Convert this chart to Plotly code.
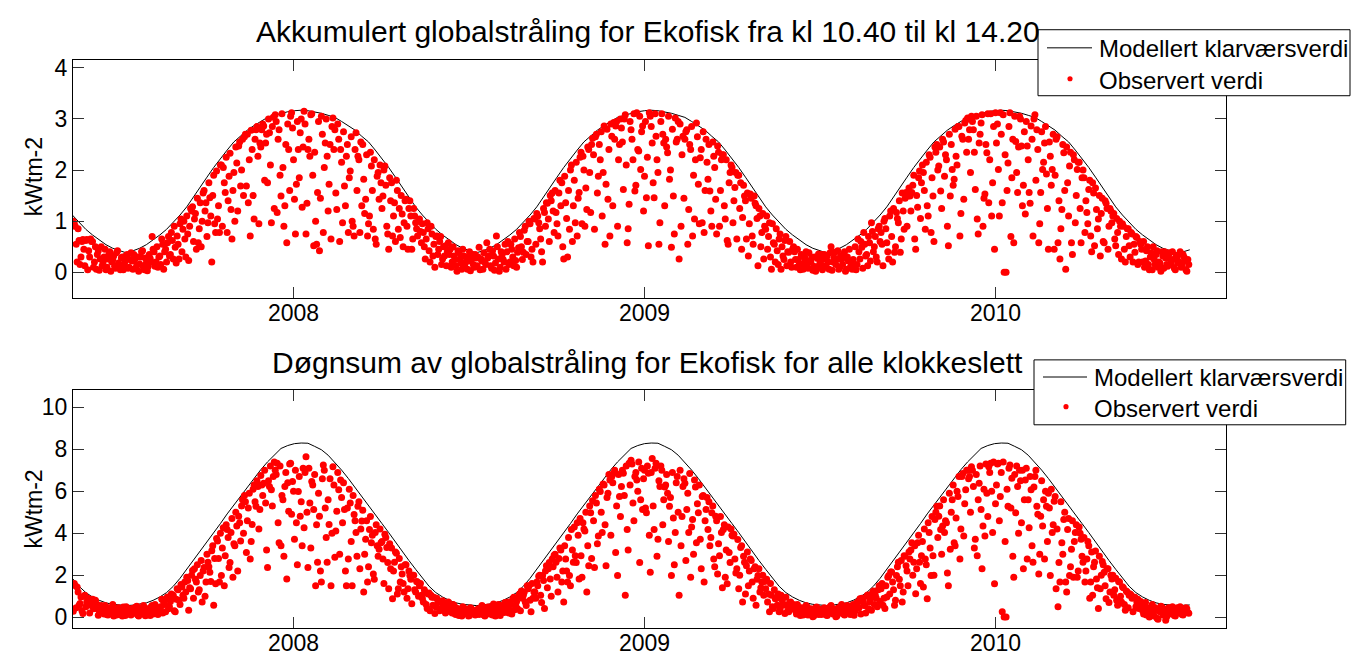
import plotly.graph_objects as go

# ---------------------------------------------------------------------------
# Data (x = day number counted from the first observation)
# ---------------------------------------------------------------------------
model_days = list(range(-1, 1162, 7))          # clear-sky model, weekly
obs_days_even = list(range(0, 1161, 2))        # observations, even day numbers
obs_days_odd = list(range(1, 1161, 2))         # observations, odd day numbers

year_tick_days = [229, 594, 959]
year_labels = ["2008", "2009", "2010"]

# Modelled clear-sky value, accumulated 10.40-14.20 (kWtm-2)
model_acc = [
    1.12, 0.97, 0.84, 0.73, 0.63, 0.54, 0.47, 0.42, 0.38,
    0.42, 0.47, 0.54, 0.63, 0.73, 0.84, 0.97, 1.12, 1.28, 1.48, 1.67, 1.86, 2.05,
    2.23, 2.39, 2.55, 2.66, 2.78, 2.87, 2.95, 3.03, 3.07, 3.11, 3.14, 3.16, 3.17,
    3.16, 3.14, 3.11, 3.07, 3.03, 2.95, 2.87, 2.78, 2.66, 2.55, 2.39, 2.23, 2.05,
    1.86, 1.67, 1.48, 1.28, 1.12, 0.97, 0.84, 0.73, 0.63, 0.54, 0.47, 0.42, 0.38,
    0.42, 0.47, 0.54, 0.63, 0.73, 0.84, 0.97, 1.12, 1.28, 1.48, 1.67, 1.86, 2.05,
    2.23, 2.39, 2.55, 2.66, 2.78, 2.87, 2.95, 3.03, 3.07, 3.11, 3.14, 3.16, 3.17,
    3.16, 3.14, 3.11, 3.07, 3.03, 2.95, 2.87, 2.78, 2.66, 2.55, 2.39, 2.23, 2.05,
    1.86, 1.67, 1.48, 1.28, 1.12, 0.97, 0.84, 0.73, 0.63, 0.54, 0.47, 0.42, 0.38,
    0.42, 0.47, 0.54, 0.63, 0.73, 0.84, 0.97, 1.12, 1.28, 1.48, 1.67, 1.86, 2.05,
    2.23, 2.39, 2.55, 2.66, 2.78, 2.87, 2.95, 3.03, 3.07, 3.11, 3.14, 3.16, 3.17,
    3.16, 3.14, 3.11, 3.07, 3.03, 2.95, 2.87, 2.78, 2.66, 2.55, 2.39, 2.23, 2.05,
    1.86, 1.67, 1.48, 1.28, 1.12, 0.97, 0.84, 0.73, 0.63, 0.54, 0.47, 0.42, 0.38,
    0.40, 0.44,
]

# Modelled clear-sky daily sum (kWtm-2)
model_sum = [
    1.85, 1.47, 1.17, 0.96, 0.80, 0.68, 0.61, 0.57, 0.55,
    0.57, 0.61, 0.68, 0.80, 0.96, 1.17, 1.47, 1.85, 2.28, 2.70, 3.13, 3.57, 4.03,
    4.46, 4.92, 5.35, 5.77, 6.20, 6.62, 7.03, 7.40, 7.74, 8.04, 8.18, 8.27, 8.30,
    8.29, 8.14, 7.98, 7.72, 7.38, 7.01, 6.61, 6.19, 5.76, 5.34, 4.91, 4.46, 4.03,
    3.57, 3.13, 2.70, 2.28, 1.85, 1.47, 1.17, 0.96, 0.80, 0.68, 0.61, 0.57, 0.55,
    0.57, 0.61, 0.68, 0.80, 0.96, 1.17, 1.47, 1.85, 2.28, 2.70, 3.13, 3.57, 4.03,
    4.46, 4.92, 5.35, 5.77, 6.20, 6.62, 7.03, 7.40, 7.74, 8.04, 8.18, 8.27, 8.30,
    8.29, 8.14, 7.98, 7.72, 7.38, 7.01, 6.61, 6.19, 5.76, 5.34, 4.91, 4.46, 4.03,
    3.57, 3.13, 2.70, 2.28, 1.85, 1.47, 1.17, 0.96, 0.80, 0.68, 0.61, 0.57, 0.55,
    0.57, 0.61, 0.68, 0.80, 0.96, 1.17, 1.47, 1.85, 2.28, 2.70, 3.13, 3.57, 4.03,
    4.46, 4.92, 5.35, 5.77, 6.20, 6.62, 7.03, 7.40, 7.74, 8.04, 8.18, 8.27, 8.30,
    8.29, 8.14, 7.98, 7.72, 7.38, 7.01, 6.61, 6.19, 5.76, 5.34, 4.91, 4.46, 4.03,
    3.57, 3.13, 2.70, 2.28, 1.85, 1.47, 1.17, 0.96, 0.80, 0.68, 0.61, 0.57, 0.55,
    0.56, 0.58,
]

# Observed value, accumulated 10.40-14.20 (kWtm-2) - even day numbers, 30 days per row
obs_acc_even = [
    1.0, 0.9, 0.2, 0.62, 0.3, 0.64, 0.13, 0.64, 0.42, 0.65, 0.6, 0.2, 0.06, 0.42, 0.26,
    0.13, 0.3, 0.05, 0.26, 0.4, 0.2, 0.32, 0.08, 0.42, 0.15, 0.28, 0.05, 0.22, 0.35, 0.1,
    0.38, 0.06, 0.26, 0.14, 0.02, 0.3, 0.42, 0.05, 0.18, 0.12, 0.27, 0.7, 0.4, 0.2, 0.1,
    0.32, 0.65, 0.06, 0.45, 0.58, 0.32, 0.78, 0.26, 0.49, 0.71, 0.26, 1.04, 0.84, 0.65, 1.1,
    0.23, 1.25, 1.28, 1.04, 0.45, 0.58, 1.36, 1.0, 1.6, 1.36, 0.97, 1.46, 0.2, 1.9, 0.78,
    1.04, 0.78, 2.1, 2.05, 1.56, 0.78, 1.88, 1.23, 1.6, 1.0, 2.14, 2.47, 1.69, 2.6, 2.65,
    1.69, 1.36, 0.71, 2.4, 1.04, 2.79, 2.27, 2.53, 2.79, 2.86, 2.53, 1.75, 2.73, 0.97, 3.03,
    3.08, 1.17, 2.79, 1.49, 2.05, 1.3, 0.58, 2.4, 3.05, 2.82, 1.43, 1.72, 2.4, 2.73, 1.27,
    3.15, 0.75, 2.4, 2.27, 3.1, 0.52, 1.0, 1.56, 0.42, 3.05, 0.78, 2.53, 2.27, 1.72, 0.65,
    3.02, 2.79, 1.23, 2.6, 2.4, 0.97, 1.69, 2.27, 0.78, 1.98, 1.0, 0.71, 2.73, 2.27, 0.78,
    1.3, 1.82, 1.43, 0.71, 1.1, 2.08, 0.84, 0.65, 1.88, 1.43, 1.75, 1.49, 2.08, 0.9, 0.45,
    1.4, 0.71, 1.36, 1.8, 0.84, 0.68, 1.14, 0.97, 1.43, 0.45, 1.4, 0.45, 1.25, 0.97, 0.71,
    1.04, 0.58, 0.78, 0.26, 0.97, 0.42, 0.9, 0.32, 0.1, 0.71, 0.45, 0.7, 0.26, 0.32, 0.13,
    0.58, 0.45, 0.2, 0.32, 0.13, 0.42, 0.26, 0.06, 0.32, 0.2, 0.06, 0.4, 0.26, 0.15, 0.35,
    0.13, 0.49, 0.26, 0.06, 0.2, 0.58, 0.32, 0.13, 0.42, 0.04, 0.71, 0.26, 0.1, 0.35, 0.2,
    0.06, 0.6, 0.2, 0.45, 0.13, 0.23, 0.39, 0.78, 0.5, 0.39, 0.9, 0.6, 1.0, 0.3, 0.2,
    1.04, 1.15, 0.97, 0.65, 0.2, 1.17, 1.36, 1.04, 1.5, 1.55, 0.78, 1.17, 0.71, 1.8, 1.75,
    0.26, 1.36, 0.3, 0.84, 2.1, 1.3, 0.97, 0.71, 1.56, 2.35, 2.27, 0.9, 1.23, 2.4, 1.17,
    2.62, 0.84, 2.7, 1.88, 2.2, 1.1, 2.86, 1.72, 1.43, 0.71, 2.66, 2.93, 2.86, 0.9, 2.5,
    2.82, 1.62, 3.08, 0.58, 1.33, 2.79, 2.2, 1.59, 3.12, 2.37, 2.01, 2.86, 1.88, 1.46, 0.52,
    3.05, 2.53, 1.46, 2.66, 1.95, 0.97, 3.1, 2.53, 2.6, 2.34, 1.82, 0.49, 1.49, 3.02, 2.6,
    0.26, 0.9, 2.66, 2.6, 2.79, 1.23, 2.4, 0.71, 1.04, 2.92, 1.72, 2.24, 0.97, 0.78, 2.6,
    1.82, 1.59, 0.9, 2.27, 1.43, 2.47, 0.9, 2.2, 2.3, 1.04, 0.62, 1.75, 2.1, 0.97, 1.66,
    0.65, 1.9, 1.75, 1.07, 1.49, 0.65, 0.32, 1.53, 0.71, 1.49, 1.3, 0.13, 1.1, 0.78, 0.26,
    0.84, 0.45, 0.97, 0.06, 0.58, 0.2, 0.42, 0.65, 0.06, 0.32, 0.62, 0.13, 0.39, 0.2, 0.45,
    0.4, 0.1, 0.25, 0.05, 0.32, 0.18, 0.4, 0.08, 0.22, 0.3, 0.12, 0.02, 0.27, 0.15, 0.35,
    0.26, 0.13, 0.32, 0.06, 0.5, 0.2, 0.39, 0.26, 0.06, 0.32, 0.15, 0.4, 0.06, 0.22, 0.1,
    0.06, 0.1, 0.05, 0.65, 0.26, 0.49, 0.78, 0.32, 0.13, 0.58, 0.97, 0.4, 0.7, 0.2, 0.9,
    0.78, 0.13, 1.05, 0.58, 0.26, 1.2, 0.2, 0.39, 1.17, 0.97, 0.39, 1.55, 0.84, 1.56, 1.49,
    1.49, 1.56, 1.9, 0.45, 1.27, 1.98, 1.75, 1.95, 0.84, 1.3, 2.3, 0.78, 1.49, 2.45, 2.5,
    2.08, 1.59, 2.6, 1.88, 2.2, 0.52, 1.49, 2.01, 1.82, 2.27, 2.85, 0.71, 2.66, 1.43, 2.97,
    3.02, 2.79, 3.05, 2.79, 1.62, 1.04, 2.53, 2.92, 0.9, 1.53, 2.34, 1.36, 3.1, 1.75, 0.45,
    2.53, 2.01, 3.12, 1.36, 0.0, 0.0, 2.14, 3.12, 1.85, 0.58, 2.56, 1.56, 3.05, 2.47, 1.7,
    1.14, 2.47, 1.56, 2.86, 0.71, 3.08, 2.79, 0.58, 1.56, 2.01, 2.53, 1.92, 0.45, 2.27, 2.01,
    0.45, 2.6, 0.58, 0.26, 1.23, 2.34, 0.06, 1.75, 2.08, 0.58, 2.3, 0.97, 2.01, 2.15, 0.58,
    2.0, 0.78, 1.17, 1.62, 0.71, 1.75, 0.52, 1.23, 1.04, 0.32, 1.45, 0.58, 1.35, 0.45, 1.25,
    0.97, 1.15, 0.52, 0.78, 1.0, 0.26, 0.9, 0.2, 0.85, 0.52, 0.78, 0.2, 0.39, 0.68, 0.2,
    0.55, 0.2, 0.1, 0.42, 0.15, 0.3, 0.05, 0.25, 0.35, 0.1, 0.18, 0.4, 0.08, 0.28, 0.12,
    0.38, 0.15, 0.25, 0.05, 0.3, 0.2, 0.1, 0.35, 0.22, 0.02, 0.15,
]

# Observed value, accumulated 10.40-14.20 (kWtm-2) - odd day numbers
obs_acc_odd = [
    0.95, 0.55, 0.85, 0.15, 0.6, 0.45, 0.62, 0.05, 0.3, 0.6, 0.1, 0.5, 0.35, 0.04, 0.5,
    0.2, 0.45, 0.1, 0.35, 0.02, 0.25, 0.12, 0.38, 0.18, 0.05, 0.3, 0.15, 0.33, 0.08, 0.25,
    0.22, 0.35, 0.08, 0.3, 0.16, 0.4, 0.1, 0.28, 0.03, 0.35, 0.2, 0.45, 0.12, 0.5, 0.3,
    0.15, 0.55, 0.4, 0.2, 0.7, 0.35, 0.62, 0.9, 0.18, 0.55, 0.95, 0.4, 1.0, 0.3, 0.75,
    0.9, 1.2, 0.6, 1.15, 1.45, 0.85, 0.5, 1.55, 1.2, 0.7, 1.75, 1.1, 1.5, 0.95, 1.98,
    1.3, 2.1, 0.9, 1.75, 2.25, 1.4, 2.33, 0.65, 1.95, 2.45, 1.2, 2.55, 2.0, 1.5, 2.7,
    2.7, 2.2, 2.78, 1.5, 2.6, 2.85, 0.95, 2.45, 2.9, 1.8, 2.7, 3.0, 2.1, 2.85, 1.25,
    2.95, 2.6, 1.9, 3.1, 0.9, 2.5, 2.9, 1.6, 3.12, 2.2, 0.75, 2.95, 1.85, 3.0, 2.45,
    2.9, 1.35, 2.6, 3.08, 1.9, 2.35, 0.55, 2.95, 1.45, 2.7, 2.05, 3.0, 1.2, 2.5, 2.85,
    2.4, 1.55, 2.9, 0.6, 2.15, 2.75, 1.3, 2.5, 1.85, 2.65, 0.9, 2.4, 1.6, 2.2, 2.55,
    2.5, 1.15, 2.3, 0.95, 2.35, 1.6, 2.2, 0.55, 1.95, 2.1, 1.25, 2.0, 1.7, 0.75, 1.85,
    1.75, 1.1, 0.6, 1.6, 1.25, 1.5, 0.5, 1.4, 0.9, 1.25, 1.1, 0.65, 1.1, 0.85, 1.0,
    0.8, 0.95, 0.5, 0.65, 0.85, 0.2, 0.75, 0.55, 0.7, 0.35, 0.6, 0.15, 0.5, 0.52, 0.4,
    0.35, 0.1, 0.5, 0.25, 0.02, 0.38, 0.18, 0.45, 0.12, 0.3, 0.22, 0.03, 0.35, 0.1, 0.28,
    0.3, 0.05, 0.22, 0.38, 0.15, 0.28, 0.45, 0.08, 0.32, 0.18, 0.5, 0.02, 0.4, 0.25, 0.55,
    0.4, 0.15, 0.55, 0.3, 0.65, 0.1, 0.48, 0.7, 0.25, 0.82, 0.35, 0.6, 0.95, 0.45, 1.05,
    0.55, 1.1, 0.85, 0.4, 1.25, 0.9, 1.35, 0.6, 1.4, 1.2, 1.6, 0.95, 1.55, 1.3, 0.5,
    1.88, 1.05, 1.6, 2.0, 0.6, 1.8, 2.15, 1.45, 2.25, 0.95, 2.0, 1.65, 2.45, 1.95, 2.5,
    2.3, 2.65, 1.55, 2.5, 2.75, 1.95, 0.55, 2.8, 2.4, 2.9, 1.3, 2.6, 2.95, 2.2, 3.0,
    2.55, 3.0, 2.1, 0.85, 2.95, 2.6, 3.1, 1.7, 2.4, 3.05, 2.75, 1.2, 2.95, 2.25, 3.12,
    2.85, 1.75, 3.1, 2.2, 0.55, 2.95, 2.7, 1.3, 2.45, 3.05, 2.0, 2.8, 0.75, 2.55, 2.95,
    2.9, 2.3, 1.45, 2.75, 0.55, 2.5, 2.85, 1.9, 2.2, 2.65, 0.95, 2.4, 2.75, 1.6, 2.15,
    2.5, 1.2, 2.55, 2.05, 0.75, 2.35, 1.6, 2.3, 1.3, 2.2, 0.55, 1.95, 2.05, 1.4, 1.95,
    1.9, 1.25, 0.45, 1.7, 1.4, 1.55, 0.95, 1.45, 0.55, 1.35, 1.05, 1.25, 0.5, 1.15, 0.9,
    1.1, 0.7, 0.3, 0.95, 0.55, 0.85, 0.15, 0.75, 0.5, 0.25, 0.7, 0.4, 0.6, 0.1, 0.5,
    0.25, 0.45, 0.15, 0.35, 0.06, 0.28, 0.12, 0.38, 0.2, 0.04, 0.3, 0.1, 0.36, 0.2, 0.05,
    0.35, 0.1, 0.2, 0.38, 0.04, 0.28, 0.15, 0.42, 0.1, 0.25, 0.35, 0.02, 0.3, 0.45, 0.18,
    0.25, 0.5, 0.15, 0.4, 0.6, 0.08, 0.55, 0.35, 0.7, 0.22, 0.8, 0.5, 0.3, 0.85, 0.6,
    0.55, 1.0, 0.85, 0.4, 1.1, 0.7, 1.25, 0.5, 1.05, 1.4, 0.65, 1.2, 1.45, 0.9, 1.65,
    1.2, 1.7, 0.65, 1.5, 1.85, 1.05, 2.1, 1.6, 2.15, 1.1, 2.25, 1.85, 0.6, 2.35, 2.0,
    2.45, 1.25, 2.55, 2.3, 0.9, 2.7, 2.5, 1.7, 2.8, 2.1, 2.85, 1.15, 2.6, 2.92, 2.35,
    2.6, 1.95, 2.95, 2.35, 3.05, 0.75, 2.7, 3.08, 1.45, 2.5, 3.1, 2.2, 1.1, 2.85, 3.12,
    2.9, 1.1, 2.7, 3.08, 2.3, 1.6, 2.85, 0.7, 2.6, 3.05, 1.95, 2.45, 3.0, 1.3, 2.75,
    2.95, 2.2, 1.35, 2.6, 3.0, 1.8, 2.4, 0.95, 2.75, 2.15, 2.85, 1.25, 2.55, 1.7, 2.7,
    1.9, 2.65, 1.4, 0.85, 2.5, 1.6, 2.45, 1.1, 2.35, 0.35, 2.2, 1.5, 2.15, 1.25, 1.85,
    1.85, 1.4, 0.95, 1.8, 0.4, 1.55, 1.65, 0.85, 1.5, 1.15, 0.6, 1.4, 1.25, 0.9, 1.2,
    1.1, 0.65, 1.05, 0.35, 0.9, 0.95, 0.45, 0.7, 0.85, 0.3, 0.75, 0.55, 0.7, 0.15, 0.6,
    0.45, 0.6, 0.22, 0.5, 0.05, 0.38, 0.5, 0.15, 0.42, 0.2, 0.02, 0.32, 0.4, 0.15, 0.35,
    0.25, 0.4, 0.08, 0.33, 0.18, 0.4, 0.12, 0.3, 0.05, 0.25,
]

# Observed daily sum (kWtm-2) - even day numbers
obs_sum_even = [
    0.28, 1.5, 1.43, 0.57, 0.96, 0.17, 1.04, 0.72, 0.88, 0.57, 0.85, 0.8, 0.41, 0.09, 0.25,
    0.35, 0.15, 0.5, 0.1, 0.3, 0.45, 0.05, 0.2, 0.38, 0.12, 0.28, 0.48, 0.08, 0.22, 0.4,
    0.1, 0.42, 0.25, 0.52, 0.05, 0.3, 0.15, 0.45, 0.2, 0.35, 0.08, 0.55, 0.28, 0.4, 0.12,
    0.35, 0.85, 0.72, 0.25, 0.96, 0.49, 1.1, 1.04, 0.25, 1.35, 0.8, 1.55, 1.04, 1.67, 1.9,
    0.33, 1.35, 2.22, 2.3, 1.67, 1.2, 1.98, 0.72, 2.37, 1.67, 2.61, 2.14, 3.16, 0.57, 1.59,
    3.63, 1.67, 1.98, 4.26, 2.92, 4.18, 2.37, 4.03, 1.9, 3.4, 4.34, 4.81, 3.63, 5.6, 5.8,
    3.08, 5.2, 2.77, 4.42, 6.3, 5.28, 6.23, 5.13, 6.3, 6.38, 5.44, 2.37, 6.23, 6.07, 6.7,
    7.0, 7.33, 3.55, 3.4, 5.6, 6.23, 1.82, 5.05, 7.33, 6.46, 3.71, 4.5, 5.99, 4.81, 3.4,
    4.26, 7.64, 2.37, 5.44, 6.46, 5.13, 1.5, 2.61, 4.81, 1.67, 7.25, 5.2, 2.61, 4.42, 1.5,
    7.17, 2.85, 5.05, 6.07, 6.54, 4.5, 5.13, 1.5, 2.77, 5.44, 1.5, 4.89, 4.03, 5.28, 2.3,
    4.58, 1.2, 3.71, 1.67, 4.18, 3.55, 2.06, 4.03, 3.4, 3.24, 3.55, 2.77, 3.95, 3.32, 1.35,
    2.3, 0.88, 2.61, 3.05, 1.35, 1.67, 2.06, 1.2, 2.5, 1.35, 1.98, 0.64, 2.0, 1.2, 1.67,
    1.5, 1.04, 0.72, 1.2, 0.41, 1.15, 1.04, 0.57, 0.17, 0.9, 0.72, 0.41, 0.78, 0.49, 0.25,
    0.72, 0.41, 0.2, 0.55, 0.12, 0.35, 0.25, 0.05, 0.45, 0.18, 0.3, 0.08, 0.4, 0.22, 0.1,
    0.3, 0.12, 0.45, 0.2, 0.05, 0.38, 0.25, 0.5, 0.1, 0.32, 0.18, 0.6, 0.08, 0.42, 0.22,
    0.25, 0.72, 0.33, 0.15, 0.95, 0.57, 0.4, 1.1, 1.25, 1.04, 0.72, 1.5, 1.5, 0.25, 0.9,
    1.2, 1.67, 1.95, 1.04, 1.98, 0.41, 2.45, 2.3, 1.82, 2.77, 2.95, 2.61, 1.2, 3.3, 1.67,
    0.72, 2.77, 1.67, 1.98, 4.18, 2.61, 2.92, 4.5, 1.82, 2.92, 4.5, 4.1, 1.2, 2.45, 4.97,
    5.55, 2.37, 5.44, 3.87, 5.99, 4.03, 6.3, 2.45, 5.91, 6.54, 6.7, 6.86, 3.08, 1.98, 5.75,
    6.23, 6.86, 1.04, 4.18, 7.33, 7.48, 5.44, 6.7, 6.54, 7.4, 5.6, 5.13, 7.0, 4.97, 6.86,
    2.14, 7.56, 4.18, 7.33, 3.71, 6.23, 7.0, 5.6, 6.3, 5.91, 5.28, 1.98, 4.73, 4.03, 6.7,
    1.04, 3.4, 6.23, 6.38, 5.13, 4.03, 1.9, 4.65, 6.54, 3.55, 4.97, 3.71, 5.75, 1.67, 5.13,
    4.18, 3.4, 4.97, 2.77, 4.81, 2.06, 2.92, 4.03, 4.18, 1.9, 1.59, 3.08, 4.2, 3.87, 2.77,
    2.3, 1.35, 3.32, 0.72, 2.61, 2.45, 1.5, 2.77, 1.67, 2.3, 0.57, 1.98, 1.2, 1.67, 1.04,
    1.35, 0.72, 0.25, 1.04, 0.41, 0.88, 0.57, 0.25, 1.04, 0.57, 0.17, 0.57, 0.25, 0.72, 0.41,
    0.5, 0.15, 0.3, 0.08, 0.42, 0.2, 0.55, 0.1, 0.35, 0.25, 0.05, 0.45, 0.18, 0.3, 0.12,
    0.22, 0.4, 0.08, 0.32, 0.55, 0.15, 0.28, 0.05, 0.45, 0.2, 0.35, 0.1, 0.5, 0.25, 0.12,
    0.25, 0.09, 0.4, 0.72, 0.88, 0.9, 0.57, 0.2, 1.05, 0.72, 0.33, 1.25, 1.04, 0.5, 1.5,
    1.35, 0.57, 0.41, 0.96, 1.98, 2.15, 1.67, 0.57, 1.98, 2.61, 1.5, 0.72, 2.92, 2.45, 1.5,
    2.77, 3.55, 2.61, 1.12, 3.55, 2.61, 2.92, 1.43, 2.77, 0.88, 4.03, 1.98, 2.92, 4.65, 5.28,
    4.81, 4.18, 4.34, 4.03, 4.5, 1.5, 3.24, 5.6, 3.55, 4.73, 5.75, 2.77, 6.7, 3.87, 6.07,
    7.0, 6.7, 7.17, 6.23, 3.71, 2.92, 6.38, 5.13, 4.34, 3.87, 5.91, 7.17, 7.33, 4.03, 1.59,
    6.3, 7.33, 5.75, 0.25, 0.0, 0.0, 5.28, 7.25, 6.62, 1.9, 4.97, 6.23, 7.0, 4.5, 2.3,
    6.54, 2.77, 4.26, 6.07, 2.61, 6.7, 5.28, 2.06, 4.81, 4.34, 2.77, 5.28, 5.91, 1.98, 4.03,
    5.52, 1.35, 0.49, 1.67, 3.55, 4.65, 1.67, 4.18, 1.98, 3.24, 1.9, 4.03, 1.9, 4.3, 3.71,
    2.61, 1.67, 2.77, 3.4, 1.67, 1.04, 2.61, 1.82, 0.41, 1.35, 2.65, 2.14, 0.88, 2.3, 1.2,
    1.82, 1.04, 1.85, 0.57, 1.67, 0.72, 1.4, 0.33, 1.2, 1.04, 1.05, 0.25, 0.95, 0.72, 0.41,
    0.75, 0.3, 0.55, 0.1, 0.42, 0.2, 0.6, 0.05, 0.35, -0.1, 0.25, 0.48, 0.12, -0.15, 0.3,
    0.4, 0.15, 0.3, 0.05, 0.45, 0.2, 0.35, 0.1, 0.28, 0.4, 0.18,
]

# Observed daily sum (kWtm-2) - odd day numbers
obs_sum_odd = [
    1.6, 0.45, 1.2, 0.65, 0.3, 1.0, 0.5, 0.9, 0.2, 0.7, 0.4, 0.8, 0.6, 0.3, 0.55,
    0.25, 0.55, 0.12, 0.4, 0.2, 0.6, 0.3, 0.1, 0.45, 0.25, 0.05, 0.35, 0.5, 0.15, 0.3,
    0.3, 0.18, 0.48, 0.1, 0.38, 0.22, 0.55, 0.06, 0.4, 0.25, 0.5, 0.15, 0.6, 0.32, 0.45,
    0.5, 0.2, 0.6, 0.9, 0.4, 0.75, 1.0, 0.3, 0.85, 1.3, 0.6, 1.45, 0.9, 1.2, 1.75,
    1.4, 2.0, 0.9, 1.8, 2.5, 1.3, 2.7, 2.2, 1.0, 3.0, 2.4, 1.7, 3.4, 2.8, 3.75,
    2.8, 4.0, 3.3, 1.5, 4.4, 3.8, 2.6, 4.7, 3.5, 5.0, 2.2, 4.5, 5.3, 4.0, 5.5,
    4.6, 5.9, 3.6, 6.1, 5.5, 6.5, 4.2, 6.75, 5.8, 7.0, 3.2, 6.5, 7.2, 5.3, 7.4,
    6.8, 4.5, 7.2, 5.8, 2.9, 6.9, 6.4, 7.3, 4.9, 6.0, 7.0, 2.5, 6.7, 5.5, 7.1,
    6.9, 5.0, 7.1, 3.3, 6.3, 6.8, 4.4, 5.9, 2.2, 6.6, 7.0, 3.8, 5.6, 6.6, 4.0,
    6.3, 4.1, 6.9, 3.0, 5.7, 6.4, 2.2, 5.2, 6.1, 3.6, 5.8, 4.6, 2.9, 5.5, 4.2,
    5.1, 3.0, 4.6, 2.4, 4.8, 3.9, 1.8, 4.4, 2.9, 4.2, 3.6, 1.6, 3.8, 2.6, 3.5,
    3.3, 2.2, 3.1, 1.1, 2.8, 2.4, 1.6, 2.5, 0.9, 2.2, 1.8, 2.0, 1.3, 1.7, 1.0,
    1.6, 0.9, 1.3, 0.6, 1.1, 0.3, 0.95, 0.95, 0.5, 0.8, 0.3, 0.7, 0.55, 0.2, 0.65,
    0.5, 0.3, 0.6, 0.15, 0.42, 0.08, 0.28, 0.5, 0.2, 0.38, 0.05, 0.45, 0.25, 0.32, 0.15,
    0.4, 0.2, 0.55, 0.1, 0.35, 0.48, 0.15, 0.3, 0.62, 0.05, 0.4, 0.25, 0.55, 0.35, 0.7,
    0.5, 0.2, 0.6, 0.85, 0.35, 0.75, 1.0, 0.3, 0.9, 1.2, 0.55, 1.35, 0.8, 1.6, 1.2,
    0.9, 1.5, 2.0, 0.7, 1.75, 2.2, 1.4, 2.6, 1.0, 2.4, 3.0, 1.9, 2.8, 3.2, 2.2,
    3.4, 2.2, 3.8, 1.5, 3.2, 4.3, 2.6, 3.9, 4.7, 1.9, 4.2, 5.0, 3.4, 5.3, 2.8,
    4.6, 5.8, 3.5, 6.1, 5.0, 6.35, 4.4, 5.7, 6.8, 3.9, 6.4, 7.0, 5.3, 6.8, 4.8,
    7.0, 5.8, 7.2, 3.2, 6.3, 7.3, 4.6, 6.9, 6.0, 2.6, 7.1, 6.6, 5.2, 7.2, 3.9,
    6.9, 5.3, 7.1, 2.9, 6.5, 7.2, 4.4, 6.2, 6.8, 3.6, 5.7, 6.9, 2.5, 6.4, 5.0,
    7.0, 4.8, 6.6, 2.7, 5.9, 6.85, 4.3, 3.0, 6.2, 5.4, 6.3, 2.3, 5.8, 4.6, 5.7,
    5.5, 3.8, 5.3, 2.4, 4.6, 3.5, 4.8, 1.4, 4.4, 3.2, 4.3, 2.6, 3.9, 3.95, 2.1,
    3.7, 2.0, 3.4, 2.9, 1.1, 3.1, 2.2, 2.7, 0.9, 2.4, 1.8, 2.3, 1.4, 2.0, 1.7,
    1.8, 1.1, 1.6, 0.5, 1.3, 0.9, 1.1, 0.35, 0.8, 0.6, 0.95, 0.3, 0.7, 0.45, 0.6,
    0.3, 0.6, 0.22, 0.45, 0.1, 0.35, 0.5, 0.18, 0.4, 0.02, 0.28, 0.48, 0.12, 0.38, 0.2,
    0.45, 0.1, 0.3, 0.5, 0.2, 0.38, 0.02, 0.42, 0.25, 0.6, 0.15, 0.35, 0.55, 0.2, 0.4,
    0.6, 0.3, 0.7, 0.45, 0.15, 0.8, 0.55, 1.0, 0.4, 0.85, 1.15, 0.6, 0.9, 1.3, 0.75,
    1.6, 0.9, 1.5, 1.9, 1.1, 2.15, 1.3, 0.8, 2.4, 1.8, 2.7, 1.2, 2.9, 2.2, 3.1,
    3.2, 2.0, 3.4, 2.3, 3.9, 1.6, 3.6, 4.2, 2.5, 4.5, 3.3, 4.8, 2.0, 5.0, 3.8,
    5.3, 3.0, 5.6, 4.6, 2.1, 5.9, 5.0, 6.3, 3.4, 6.0, 6.7, 4.2, 6.85, 5.4, 7.0,
    6.6, 5.0, 7.0, 3.3, 6.8, 5.6, 7.2, 2.3, 6.1, 7.3, 4.8, 6.9, 6.0, 7.4, 5.4,
    7.3, 4.6, 6.9, 7.4, 3.6, 6.1, 7.1, 5.2, 2.9, 6.8, 7.2, 4.0, 6.5, 7.0, 5.6,
    7.1, 5.6, 6.7, 3.4, 6.2, 7.0, 4.9, 3.0, 6.5, 5.6, 6.0, 3.6, 5.2, 6.1, 4.4,
    5.75, 4.2, 2.6, 5.5, 3.0, 5.0, 1.2, 4.7, 2.4, 4.6, 3.6, 4.4, 2.2, 4.0, 2.9,
    3.8, 2.2, 3.6, 0.9, 3.1, 2.4, 3.15, 1.4, 2.9, 2.0, 2.5, 1.5, 2.3, 0.7, 2.0,
    2.0, 1.3, 0.8, 1.7, 1.0, 1.45, 0.6, 1.25, 0.45, 1.1, 0.9, 0.95, 0.5, 0.85, 0.6,
    0.55, 0.15, 0.7, 0.35, 0.0, 0.5, 0.22, 0.45, -0.05, 0.3, 0.52, 0.1, 0.38, 0.02, 0.45,
    0.2, 0.5, 0.08, 0.38, 0.25, 0.5, 0.12, 0.3, 0.45, 0.22,
]

assert len(model_acc) == len(model_days) == len(model_sum)
assert len(obs_acc_even) == len(obs_sum_even) == len(obs_days_even)
assert len(obs_acc_odd) == len(obs_sum_odd) == len(obs_days_odd)

obs_days = obs_days_even + obs_days_odd
obs_acc = obs_acc_even + obs_acc_odd
obs_sum = obs_sum_even + obs_sum_odd

# ---------------------------------------------------------------------------
# Figure
# ---------------------------------------------------------------------------
W, H = 1357, 658
FONT = "Liberation Sans, Arial, Helvetica, sans-serif"
X0, X1 = 73, 1226                      # plot area, left/right (px)
RED = "#ff0000"


def px_x(p):
    return p / W


def px_y(p):
    return 1 - p / H


fig = go.Figure()

panels = [
    dict(model=model_acc, obs=obs_acc, xa="x", ya="y"),
    dict(model=model_sum, obs=obs_sum, xa="x2", ya="y2"),
]
for p in panels:
    fig.add_trace(go.Scatter(
        x=model_days, y=p["model"], mode="lines",
        line=dict(color="black", width=1),
        name="Modellert klarværsverdi",
        xaxis=p["xa"], yaxis=p["ya"],
    ))
    fig.add_trace(go.Scatter(
        x=obs_days, y=p["obs"], mode="markers",
        marker=dict(color=RED, size=7, line=dict(width=0)),
        name="Observert verdi",
        xaxis=p["xa"], yaxis=p["ya"],
    ))

axis_common = dict(
    showline=True, linecolor="black", linewidth=1, mirror="ticks",
    ticks="inside", ticklen=11, tickcolor="#333333", tickwidth=1,
    showgrid=False, zeroline=False,
    tickfont=dict(family=FONT, size=23, color="black"),
)

xaxis_common = dict(axis_common, range=[-0.3, 1198.7],
                    tickvals=year_tick_days, ticktext=year_labels,
                    ticklabelstandoff=-5)

fig.update_layout(
    width=W, height=H,
    margin=dict(l=0, r=0, t=0, b=0),
    paper_bgcolor="white", plot_bgcolor="white",
    font=dict(family=FONT, color="black"),
    showlegend=False,
    xaxis=dict(xaxis_common, domain=[px_x(X0), px_x(X1)], anchor="y"),
    yaxis=dict(axis_common, domain=[px_y(296), px_y(55.7)], anchor="x",
               range=[-0.5, 4.15], tickvals=[0, 1, 2, 3, 4]),
    xaxis2=dict(xaxis_common, domain=[px_x(X0), px_x(X1)], anchor="y2"),
    yaxis2=dict(axis_common, domain=[px_y(629.3), px_y(389.3)], anchor="x2",
                range=[-0.5, 10.82], tickvals=[0, 2, 4, 6, 8, 10]),
)

title_font = dict(family=FONT, size=30, color="black")
label_font = dict(family=FONT, size=23, color="black")
legend_font = dict(family=FONT, size=24, color="black")

fig.add_annotation(text="Akkumulert globalstråling for Ekofisk fra kl 10.40 til kl 14.20",
                   xref="paper", yref="paper", x=px_x(648), y=px_y(26.7),
                   xanchor="center", yanchor="middle", showarrow=False, font=title_font)
fig.add_annotation(text="Døgnsum av globalstråling for Ekofisk for alle klokkeslett",
                   xref="paper", yref="paper", x=px_x(647), y=px_y(361),
                   xanchor="center", yanchor="middle", showarrow=False, font=title_font)
for yc in (174, 510):
    fig.add_annotation(text="kWtm-2", textangle=-90,
                       xref="paper", yref="paper", x=px_x(34), y=px_y(yc),
                       xanchor="center", yanchor="middle", showarrow=False, font=label_font)

# Legend boxes (one per panel), drawn over the plot area
legend_boxes = [
    dict(box=(1038, 25, 1350, 91.7), line=(1047, 1092, 43.3), dot=(1070, 74.5),
         text_x=1096.5, rows=(44, 76)),
    dict(box=(1034, 358.7, 1345.7, 424.3), line=(1043, 1087, 376), dot=(1066, 406),
         text_x=1092, rows=(376, 407.5)),
]
for lb in legend_boxes:
    bx0, by0, bx1, by1 = lb["box"]
    fig.add_shape(type="rect", xref="paper", yref="paper", layer="above",
                  x0=px_x(bx0), x1=px_x(bx1), y0=px_y(by1), y1=px_y(by0),
                  fillcolor="white", line=dict(color="black", width=1))
    lx0, lx1, ly = lb["line"]
    fig.add_shape(type="line", xref="paper", yref="paper", layer="above",
                  x0=px_x(lx0), x1=px_x(lx1), y0=px_y(ly), y1=px_y(ly),
                  line=dict(color="black", width=1))
    dx, dy = lb["dot"]
    r = 2.6
    fig.add_shape(type="circle", xref="paper", yref="paper", layer="above",
                  x0=px_x(dx - r), x1=px_x(dx + r), y0=px_y(dy + r), y1=px_y(dy - r),
                  fillcolor=RED, line=dict(width=0))
    for label, ry in zip(["Modellert klarværsverdi", "Observert verdi"], lb["rows"]):
        fig.add_annotation(text=label, xref="paper", yref="paper",
                           x=px_x(lb["text_x"]), y=px_y(ry),
                           xanchor="left", yanchor="middle", showarrow=False,
                           font=legend_font)

fig.write_html("out.html")
